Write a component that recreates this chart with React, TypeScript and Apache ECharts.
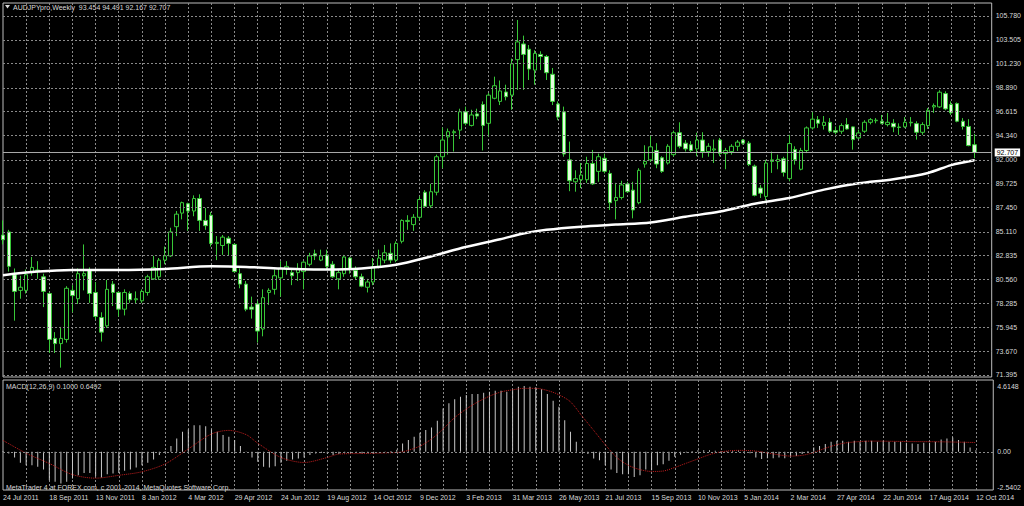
import React, { useEffect, useRef } from "react";
import * as echarts from "echarts";

// ---------- data ----------
const priceTicks = [71.395, 73.67, 75.945, 78.285, 80.56, 82.835, 85.11, 87.45, 89.725, 92.0, 94.34, 96.615, 98.89, 101.23, 103.505, 105.78];
const macdTicks = [-2.5402, 0, 4.6148];
const dateLabels = ["24 Jul 2011", "18 Sep 2011", "13 Nov 2011", "8 Jan 2012", "4 Mar 2012", "29 Apr 2012", "24 Jun 2012", "19 Aug 2012", "14 Oct 2012", "9 Dec 2012", "3 Feb 2013", "31 Mar 2013", "26 May 2013", "21 Jul 2013", "15 Sep 2013", "10 Nov 2013", "5 Jan 2014", "2 Mar 2014", "27 Apr 2014", "22 Jun 2014", "17 Aug 2014", "12 Oct 2014"];
const bidPrice = 92.707;

// weekly bars: [open, high, low, close]
const ohlc: number[][] = [
  [84.8, 86.2, 83.9, 84.35], [85.1, 85.3, 81.3, 81.8], [81.0, 81.6, 76.6, 79.4], [79.5, 80.9, 78.7, 79.8],
  [79.5, 81.5, 79.2, 81.0], [81.2, 82.7, 80.9, 81.7], [81.4, 82.3, 80.6, 81.45], [80.8, 81.1, 77.9, 79.4],
  [79.2, 79.3, 73.5, 74.8], [74.9, 75.5, 73.5, 74.4], [74.4, 76.0, 72.1, 74.9], [74.8, 79.9, 74.5, 79.7],
  [79.5, 80.0, 77.4, 79.0], [78.7, 81.6, 78.2, 81.1], [80.9, 83.9, 79.5, 81.1], [81.4, 81.7, 78.3, 79.2],
  [79.3, 80.3, 76.7, 77.0], [76.9, 77.4, 74.6, 75.5], [76.1, 80.5, 75.9, 79.6], [80.1, 80.4, 78.0, 79.3],
  [79.3, 79.4, 77.0, 77.7], [77.7, 79.6, 77.1, 79.3], [79.2, 79.4, 78.3, 78.6], [78.6, 79.4, 78.2, 78.7],
  [78.5, 79.6, 78.3, 79.4], [79.3, 81.0, 79.0, 80.8], [80.6, 82.8, 80.5, 81.7], [80.8, 82.6, 80.5, 82.4],
  [82.4, 83.7, 82.0, 82.8], [82.8, 85.5, 82.7, 85.1], [85.6, 87.1, 84.7, 86.8], [86.9, 88.0, 86.3, 87.9],
  [87.8, 87.9, 85.2, 87.1], [87.1, 88.6, 86.6, 88.3], [88.3, 88.7, 85.2, 86.2], [86.2, 87.4, 85.3, 85.7],
  [86.7, 87.0, 83.7, 84.0], [84.0, 84.7, 82.4, 84.1], [83.8, 84.8, 82.9, 84.6], [84.5, 84.7, 82.8, 84.0],
  [83.9, 84.0, 81.2, 81.3], [81.1, 81.6, 79.7, 80.1], [80.1, 80.4, 77.5, 77.7], [77.9, 78.9, 76.8, 77.7],
  [78.2, 78.5, 74.5, 75.6], [75.8, 79.6, 75.1, 78.8], [79.3, 79.7, 78.1, 79.5], [79.6, 81.5, 79.1, 80.9],
  [80.7, 82.3, 78.9, 81.6], [81.6, 82.3, 81.0, 81.8], [81.2, 81.6, 80.0, 80.9], [81.2, 82.1, 80.4, 81.5],
  [81.3, 82.3, 79.6, 82.2], [82.0, 83.1, 81.8, 82.8], [83.0, 83.4, 82.4, 82.8], [82.4, 83.4, 82.3, 82.8],
  [82.9, 83.4, 81.5, 81.8], [82.0, 82.3, 80.7, 80.8], [80.6, 81.45, 79.6, 81.2], [81.1, 82.9, 80.8, 82.7],
  [82.6, 82.7, 81.1, 81.5], [81.4, 81.8, 80.5, 80.8], [80.8, 81.1, 79.8, 79.9], [79.8, 80.6, 79.3, 80.3],
  [80.3, 82.6, 80.0, 81.75], [81.8, 83.4, 81.6, 82.6], [82.4, 83.85, 82.1, 83.1], [83.05, 84.0, 82.1, 82.4],
  [82.4, 84.2, 82.2, 84.0], [84.2, 86.3, 84.0, 86.2], [86.1, 86.7, 85.3, 86.2], [85.8, 86.8, 85.2, 86.5],
  [86.5, 88.5, 86.2, 88.2], [88.9, 89.1, 87.5, 87.55], [87.6, 89.7, 87.4, 88.95], [88.9, 92.5, 88.6, 92.3],
  [92.3, 95.1, 91.2, 93.9], [94.2, 95.0, 92.5, 94.7], [94.6, 94.9, 92.8, 94.7], [94.85, 96.9, 94.0, 96.6],
  [96.6, 97.1, 95.3, 95.5], [95.3, 96.8, 95.2, 96.3], [96.4, 96.9, 95.9, 96.2], [97.3, 97.6, 92.9, 95.3],
  [95.5, 98.4, 94.2, 98.2], [97.9, 99.97, 97.8, 99.1], [97.6, 99.6, 97.25, 98.6], [98.5, 99.2, 97.7, 98.05],
  [98.2, 101.7, 96.8, 101.2], [101.6, 105.4, 98.7, 103.3], [103.1, 103.9, 98.7, 102.1], [102.6, 103.0, 99.65, 100.7],
  [100.6, 102.5, 99.2, 102.2], [102.1, 102.4, 100.6, 101.9], [101.9, 102.05, 99.65, 100.35], [100.2, 100.8, 97.25, 97.6],
  [97.35, 97.6, 95.8, 96.1], [96.6, 97.1, 92.3, 92.56], [92.0, 93.75, 89.0, 90.0], [89.9, 91.0, 88.95, 90.2],
  [90.1, 91.7, 89.3, 90.55], [90.1, 92.3, 89.8, 91.65], [91.65, 92.95, 89.6, 89.7], [90.9, 92.6, 89.9, 92.3],
  [92.15, 92.6, 90.7, 90.9], [90.7, 91.0, 87.2, 87.9], [88.1, 89.8, 86.3, 88.4], [88.4, 90.0, 88.2, 89.6],
  [89.7, 89.9, 88.85, 88.95], [89.1, 89.9, 86.4, 87.2], [87.9, 91.2, 87.75, 91.0], [91.6, 93.4, 91.25, 91.85],
  [92.0, 94.3, 91.8, 93.25], [92.9, 93.6, 91.2, 91.6], [92.2, 92.35, 90.75, 90.9], [91.7, 93.5, 91.55, 93.3],
  [92.5, 94.8, 92.3, 94.6], [94.6, 95.6, 93.1, 93.3], [93.6, 93.9, 92.8, 93.05], [93.45, 93.8, 92.7, 92.9],
  [93.05, 94.6, 92.35, 93.9], [93.9, 94.65, 92.2, 92.8], [92.8, 93.6, 92.3, 93.3], [92.95, 93.95, 91.7, 93.05],
  [93.9, 94.1, 92.35, 92.6], [92.6, 93.15, 91.1, 92.9], [92.8, 93.5, 92.5, 93.3], [93.3, 93.9, 92.85, 93.7],
  [93.9, 94.0, 93.45, 93.6], [93.6, 93.8, 91.4, 91.55], [91.4, 91.55, 88.5, 88.6], [89.3, 89.6, 88.35, 88.8],
  [88.5, 92.0, 88.1, 91.7], [91.85, 92.8, 90.75, 92.0], [91.85, 92.5, 91.1, 92.05], [92.1, 92.3, 90.4, 90.8],
  [90.2, 94.4, 89.95, 93.56], [93.0, 93.3, 91.55, 92.0], [91.1, 93.15, 91.0, 92.9], [92.9, 95.2, 92.65, 95.06],
  [95.06, 96.56, 94.9, 95.9], [95.85, 96.2, 95.06, 95.5], [95.3, 96.2, 94.9, 95.6], [95.6, 96.0, 94.58, 94.74],
  [94.8, 95.2, 94.45, 94.65], [94.74, 95.5, 94.5, 95.28], [95.38, 96.0, 94.9, 94.96], [95.16, 95.2, 92.98, 93.94],
  [94.1, 94.9, 94.0, 94.58], [94.74, 95.8, 94.58, 95.6], [95.6, 96.0, 95.4, 95.85], [95.75, 96.0, 95.5, 95.8],
  [95.7, 96.3, 95.4, 95.5], [95.38, 96.5, 95.2, 95.6], [95.5, 95.9, 94.65, 95.16], [95.15, 95.5, 94.4, 95.1],
  [95.16, 96.1, 95.06, 95.6], [95.55, 96.1, 95.2, 95.6], [95.47, 95.7, 93.94, 94.64], [94.64, 95.6, 94.4, 95.38],
  [95.28, 96.97, 94.96, 96.75], [97.07, 97.4, 96.5, 97.2], [97.07, 98.67, 96.97, 98.48], [98.35, 98.57, 96.75, 96.88],
  [97.3, 97.6, 96.3, 96.5], [97.39, 97.5, 95.6, 95.7], [95.7, 96.0, 94.9, 95.2], [95.2, 95.9, 93.3, 93.37],
  [93.454, 94.491, 92.167, 92.707],
];

// white moving-average line, read at [week index, price]
const maPoints: number[][] = [
  [0, 80.95], [6, 81.3], [12, 81.45], [20, 81.45], [28, 81.55], [36, 81.8], [42, 81.75], [48, 81.6],
  [56, 81.5], [62, 81.6], [68, 81.95], [74, 82.75], [80, 83.65], [86, 84.4], [90, 84.95], [94, 85.3],
  [100, 85.6], [106, 85.8], [112, 86.0], [118, 86.55], [124, 87.05], [130, 87.8], [136, 88.35], [142, 89.15],
  [148, 89.75], [154, 90.15], [160, 90.75], [164, 91.5], [168, 91.96],
];

// MACD main (histogram), one value per week
const macdMain: number[] = [
  0.05, -0.12, -0.4, -0.77, -0.94, -0.94, -1.05, -1.24, -1.99, -2.11, -2.22, -2.11, -1.87, -1.64, -1.48, -1.48,
  -1.71, -1.8, -1.57, -1.52, -1.48, -1.33, -1.24, -1.1, -0.94, -0.77, -0.54, -0.23, 0.05, 0.4, 0.94, 1.41,
  1.57, 1.87, 1.87, 1.8, 1.57, 1.41, 1.17, 1.05, 0.82, 0.4, 0.02, -0.4, -0.7, -1.05, -1.1, -1.01,
  -0.77, -0.63, -0.54, -0.47, -0.4, -0.23, -0.12, -0.07, -0.12, -0.23, -0.15, -0.1, -0.05, -0.08, -0.12, -0.1,
  -0.05, 0.0, 0.02, 0.05, 0.15, 0.59, 0.82, 1.05, 1.33, 1.52, 1.71, 2.18, 3.04, 3.4, 3.68, 3.86,
  3.98, 4.05, 4.05, 4.14, 4.22, 4.29, 4.29, 4.22, 4.38, 4.57, 4.61, 4.57, 4.52, 4.38, 4.05, 3.58,
  3.16, 2.22, 1.41, 0.7, 0.1, -0.15, -0.47, -0.59, -0.94, -1.24, -1.48, -1.57, -1.57, -1.76, -1.64, -1.24,
  -1.29, -0.94, -0.87, -0.63, -0.35, -0.2, -0.05, 0.05, 0.1, 0.1, 0.1, 0.08, 0.05, 0.05, 0.08, 0.1,
  0.05, -0.1, -0.4, -0.5, -0.45, -0.45, -0.4, -0.45, -0.3, -0.3, -0.15, 0.05, 0.3, 0.4, 0.54, 0.7,
  0.77, 0.77, 0.7, 0.77, 0.7, 0.77, 0.77, 0.7, 0.77, 0.7, 0.7, 0.7, 0.63, 0.59, 0.54, 0.63,
  0.63, 0.7, 0.87, 0.94, 1.01, 0.82, 0.7, 0.3, 0.1,
];

// MACD signal line (red dotted), read at [week index, value]
const macdSignal: number[][] = [
  [0, 0.8], [4, -0.1], [8, -0.82], [12, -1.6], [16, -1.85], [20, -1.65], [24, -1.4], [28, -0.85],
  [32, 0.2], [36, 1.25], [39, 1.5], [42, 1.2], [44, 0.6], [48, -0.4], [52, -0.75], [56, -0.4],
  [58, -0.16], [62, -0.12], [66, -0.08], [69, 0.0], [72, 0.4], [74, 0.9], [76, 1.6], [78, 2.4],
  [80, 3.0], [82, 3.5], [84, 3.9], [86, 4.2], [88, 4.35], [90, 4.45], [92, 4.45], [94, 4.3],
  [96, 4.0], [98, 3.5], [100, 2.5], [102, 1.5], [104, 0.5], [106, -0.4], [108, -0.95], [110, -1.25],
  [112, -1.38], [114, -1.35], [116, -1.1], [118, -0.8], [120, -0.5], [122, -0.2], [124, 0.0], [127, 0.1],
  [130, 0.05], [133, -0.15], [136, -0.3], [138, -0.25], [140, -0.05], [142, 0.25], [144, 0.5], [146, 0.65],
  [150, 0.75], [156, 0.72], [162, 0.7], [168, 0.6492],
];

// ---------- layout / style ----------
const CAT_COUNT = 172;
const TEXT = "#d8d8d8";
const GRIDC = "#8a8a8a";
const FONT = "'Liberation Sans', Arial, sans-serif";
const FS = 7;

export default function App() {
  const ref = useRef<HTMLDivElement>(null);

  useEffect(() => {
    const chart = echarts.init(ref.current as HTMLDivElement, null, { renderer: "svg" });
    const cats = Array.from({ length: CAT_COUNT }, (_, i) => String(i));
    const vGrid = (i: number) => i > 0 && i % 4 === 0 && i <= 168;
    const dashed = { color: GRIDC, width: 1, type: [2, 2] as any };

    const option: any = {
      animation: false,
      backgroundColor: "#000",
      textStyle: { fontFamily: FONT },
      grid: [
        { left: 3, top: 3, width: 992, height: 374, show: true, borderColor: "#bdbdbd", borderWidth: 1, backgroundColor: "transparent" },
        { left: 3, top: 380, width: 992, height: 110, show: true, borderColor: "#bdbdbd", borderWidth: 1, backgroundColor: "transparent" },
      ],
      xAxis: [
        {
          gridIndex: 0, type: "category", data: cats, boundaryGap: false,
          axisLine: { show: false }, axisTick: { show: false }, axisLabel: { show: false },
          splitLine: { show: true, interval: vGrid, lineStyle: dashed },
        },
        {
          gridIndex: 1, type: "category", data: cats, boundaryGap: false,
          axisLine: { show: false }, axisTick: { show: false },
          axisLabel: {
            show: true, interval: (i: number) => i % 8 === 0 && i <= 168,
            formatter: (_v: string, i: number) => (i % 8 === 0 ? dateLabels[i / 8] ?? "" : ""),
            align: "left", color: TEXT, fontSize: FS, fontFamily: FONT, margin: 4,
          },
          splitLine: { show: true, interval: vGrid, lineStyle: dashed },
        },
      ],
      yAxis: [
        {
          gridIndex: 0, type: "value", position: "right", min: 71.203, max: 107.025, scale: true,
          axisLine: { show: false }, axisTick: { show: false }, splitLine: { show: false },
          axisLabel: { customValues: priceTicks, formatter: (v: number) => v.toFixed(3), color: TEXT, fontSize: FS, fontFamily: FONT, margin: 4 },
        },
        {
          gridIndex: 1, type: "value", position: "right", min: -2.6805, max: 5.0357,
          axisLine: { show: false }, axisTick: { show: false }, splitLine: { show: false },
          axisLabel: { customValues: macdTicks, formatter: (v: number) => (v === 0 ? "0.00" : v.toFixed(4)), color: TEXT, fontSize: FS, fontFamily: FONT, margin: 4 },
        },
      ],
      series: [
        {
          name: "grid", type: "line", xAxisIndex: 0, yAxisIndex: 0, z: 1, silent: true,
          data: ohlc.map(() => null), symbol: "none",
          markLine: {
            silent: true, symbol: ["none", "none"], label: { show: false },
            lineStyle: dashed,
            data: priceTicks.map((v) => ({ yAxis: v })),
          },
        },
        {
          name: "AUDJPYpro", type: "candlestick", xAxisIndex: 0, yAxisIndex: 0, z: 2, barWidth: 4,
          data: ohlc.map(([o, h, l, c]) => [o, c, l, h]),
          itemStyle: { color: "#000000", color0: "#e6ffe0", borderColor: "#38c838", borderColor0: "#38c838", borderWidth: 1 },
          markLine: {
            silent: true, symbol: ["none", "none"],
            lineStyle: { color: "#a8a8a8", width: 1, type: "solid" },
            label: {
              show: true, position: "end", distance: 3, formatter: bidPrice.toFixed(3),
              color: "#000", backgroundColor: "#ffffff", padding: [1, 2, 0, 2], fontSize: FS, fontFamily: FONT,
            },
            data: [{ yAxis: bidPrice }],
          },
        },
        {
          name: "MA", type: "line", xAxisIndex: 0, yAxisIndex: 0, z: 3, smooth: 0.3,
          data: maPoints, symbol: "none",
          lineStyle: { color: "#ffffff", width: 2.5 },
        },
        {
          name: "MACD", type: "bar", xAxisIndex: 1, yAxisIndex: 1, z: 2, barWidth: 1,
          data: macdMain, itemStyle: { color: "#c8c8c8" },
          markLine: {
            silent: true, symbol: ["none", "none"], label: { show: false },
            lineStyle: dashed, data: [{ yAxis: 0 }],
          },
        },
        {
          name: "Signal", type: "line", xAxisIndex: 1, yAxisIndex: 1, z: 3, smooth: 0.3,
          data: macdSignal, symbol: "none",
          lineStyle: { color: "#c41e1e", width: 1, type: "dotted" },
        },
      ],
      graphic: [
        { type: "polygon", shape: { points: [[5, 5], [10, 5], [7.5, 8.5]] }, style: { fill: TEXT } },
        { type: "text", x: 13, y: 7, style: { text: "AUDJPYpro,Weekly  93.454 94.491 92.167 92.707", fill: TEXT, font: `${FS}px ${FONT}`, verticalAlign: "middle" } },
        { type: "text", x: 6, y: 386.5, style: { text: "MACD(12,26,9) 0.1000 0.6492", fill: TEXT, font: `${FS}px ${FONT}`, verticalAlign: "middle" } },
        { type: "text", x: 6, y: 487, style: { text: "MetaTrader 4 at FOREX.com, c 2001-2014, MetaQuotes Software Corp.", fill: TEXT, font: `${FS}px ${FONT}`, verticalAlign: "middle" } },
      ],
    };

    chart.setOption(option);
    return () => chart.dispose();
  }, []);

  return <div ref={ref} style={{ position: "fixed", left: 0, top: 0, width: 1024, height: 506, background: "#000" }} />;
}
